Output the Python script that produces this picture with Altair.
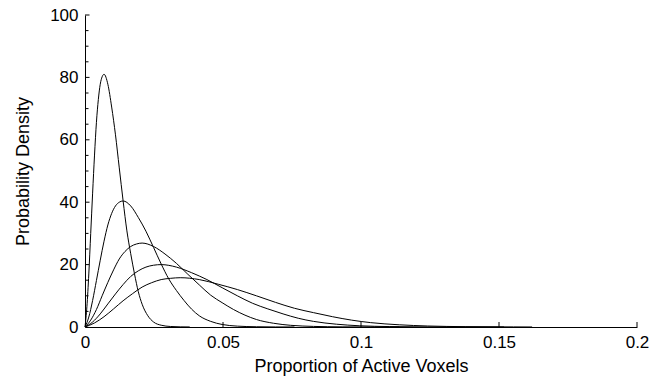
import altair as alt
import pandas as pd

# Five density curves (x = proportion, y = density)
c1_x = [0, 0.00069, 0.00138, 0.00207, 0.00276, 0.00345, 0.00414, 0.00483, 0.00552, 0.00621, 0.0069,
        0.00828, 0.00966, 0.01104, 0.01242, 0.0138, 0.01518, 0.01656, 0.01794, 0.01932, 0.0207,
        0.02277, 0.02484, 0.0276, 0.03105, 0.0345, 0.03795]
c1_y = [0, 6.5, 17.0, 30.0, 42.9, 55.1, 65.6, 72.9, 77.8, 80.2, 81.0,
        77.8, 70.5, 61.6, 51.0, 40.5, 30.8, 23.5, 17.0, 11.3, 7.3,
        3.6, 1.6, 0.57, 0.16, 0.05, 0.02]

c2_x = [0, 0.00138, 0.00276, 0.00414, 0.00552, 0.0069, 0.00828, 0.00966, 0.01104, 0.01242, 0.0138,
        0.01656, 0.01932, 0.02208, 0.02484, 0.0276, 0.03036, 0.03312, 0.03588, 0.03864, 0.0414,
        0.04554, 0.04968, 0.0552, 0.0621, 0.069, 0.0759]
c2_y = [0, 3.2, 8.5, 14.9, 21.4, 27.5, 32.7, 36.4, 38.8, 40.0, 40.4,
        38.8, 35.1, 30.7, 25.5, 20.2, 15.4, 11.7, 8.5, 5.7, 3.6,
        1.8, 0.81, 0.28, 0.08, 0.02, 0.01]

c3_x = [0, 0.00207, 0.00414, 0.00621, 0.00828, 0.01035, 0.01242, 0.01449, 0.01656, 0.01863, 0.0207,
        0.02484, 0.02898, 0.03312, 0.03726, 0.0414, 0.04554, 0.04968, 0.05382, 0.05796, 0.0621,
        0.06831, 0.07452, 0.0828, 0.09315, 0.1035, 0.11385]
c3_y = [0, 2.2, 5.6, 10.0, 14.3, 18.3, 21.8, 24.2, 25.8, 26.6, 26.9,
        25.8, 23.4, 20.4, 16.9, 13.5, 10.2, 7.8, 5.6, 3.8, 2.4,
        1.2, 0.54, 0.19, 0.05, 0.02, 0.01]

c4_x = [0, 0.00276, 0.00552, 0.00828, 0.01104, 0.0138, 0.01656, 0.01932, 0.02208, 0.02484, 0.0276,
        0.03312, 0.03864, 0.04416, 0.04968, 0.0552, 0.06072, 0.06624, 0.07176, 0.07728, 0.0828,
        0.09108, 0.09936, 0.1104, 0.1242, 0.138, 0.1518]
c4_y = [0, 1.6, 4.2, 7.4, 10.6, 13.6, 16.2, 18.0, 19.2, 19.8, 20.0,
        19.2, 17.4, 15.2, 12.6, 10.0, 7.6, 5.8, 4.2, 2.8, 1.8,
        0.9, 0.4, 0.14, 0.04, 0.01, 0.0]

c5_x = [0, 0.00345, 0.0069, 0.01035, 0.0138, 0.01725, 0.0207, 0.02415, 0.0276, 0.03105, 0.0345,
        0.0414, 0.0483, 0.0552, 0.0621, 0.069, 0.0759, 0.0828, 0.0897, 0.0966, 0.1035,
        0.11385, 0.1242, 0.138, 0.15525, 0.162]
c5_y = [0, 1.3, 3.3, 5.8, 8.4, 10.7, 12.8, 14.2, 15.2, 15.6, 15.8,
        15.2, 13.7, 12.0, 10.0, 7.9, 6.0, 4.6, 3.3, 2.2, 1.4,
        0.71, 0.32, 0.11, 0.03, 0.01]

x_tick_values = [0, 0.05, 0.1, 0.15, 0.2]
y_major_values = [0, 20, 40, 60, 80, 100]
y_minor_values = [5, 10, 15, 25, 30, 35, 45, 50, 55, 65, 70, 75, 85, 90, 95]

rows = []
for name, xs, ys in [("c1", c1_x, c1_y), ("c2", c2_x, c2_y), ("c3", c3_x, c3_y),
                     ("c4", c4_x, c4_y), ("c5", c5_x, c5_y)]:
    for xv, yv in zip(xs, ys):
        rows.append({"curve": name, "x": xv, "y": yv})
df = pd.DataFrame(rows)

W, H = 552, 312
FONT = "Liberation Sans"

xscale = alt.Scale(domain=[0, 0.2], nice=False)
yscale = alt.Scale(domain=[0, 100], nice=False)

xaxis = alt.Axis(values=x_tick_values, format="~g", title="Proportion of Active Voxels",
                 ticks=False, grid=False, domainColor="black", domainWidth=1,
                 labelFont=FONT, labelFontSize=17, labelColor="black", labelPadding=7,
                 titleFont=FONT, titleFontSize=18, titleFontWeight="normal", titleColor="black",
                 titlePadding=7, labelFlush=False)
yaxis = alt.Axis(values=y_major_values, title="Probability Density",
                 ticks=False, grid=False, domainColor="black", domainWidth=1,
                 labelFont=FONT, labelFontSize=17, labelColor="black", labelPadding=7,
                 titleFont=FONT, titleFontSize=18, titleFontWeight="normal", titleColor="black",
                 titlePadding=17, labelFlush=False)

lines = alt.Chart(df).mark_line(color="black", strokeWidth=1, interpolate="monotone").encode(
    x=alt.X("x:Q", scale=xscale, axis=xaxis),
    y=alt.Y("y:Q", scale=yscale, axis=yaxis),
    detail="curve:N",
)

xt = alt.Chart(pd.DataFrame({"x": x_tick_values[1:]})).mark_rule(color="black", strokeWidth=1).encode(
    x=alt.X("x:Q", scale=xscale, axis=xaxis),
    y=alt.value(H),
    y2=alt.value(H - 5),
)

ymaj = alt.Chart(pd.DataFrame({"y": y_major_values[1:]})).mark_rule(color="black", strokeWidth=1).encode(
    y=alt.Y("y:Q", scale=yscale, axis=yaxis),
    x=alt.value(0),
    x2=alt.value(4.5),
)

ymin = alt.Chart(pd.DataFrame({"y": y_minor_values})).mark_rule(color="black", strokeWidth=1).encode(
    y=alt.Y("y:Q", scale=yscale, axis=yaxis),
    x=alt.value(0),
    x2=alt.value(3.5),
)

chart = alt.layer(lines, xt, ymaj, ymin).properties(
    width=W, height=H,
    autosize=alt.AutoSizeParams(type="none"),
    padding={"left": 85, "top": 15, "right": 29, "bottom": 58},
    background="white",
).configure_view(stroke=None)

chart.save("out.html", embed_options={"renderer": "svg", "actions": False})
